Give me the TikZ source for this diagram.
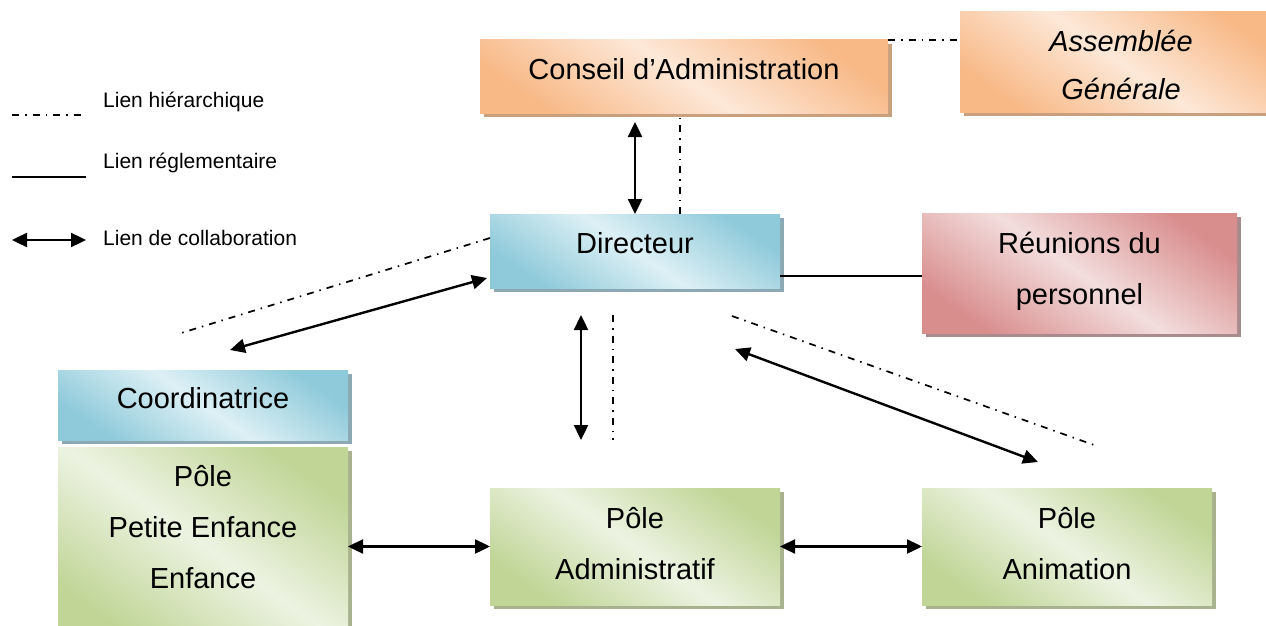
\documentclass[tikz,border=0pt]{standalone}
\usepackage{fontspec}
\setmainfont{Liberation Sans}
\usetikzlibrary{arrows.meta,calc,shadows}
\definecolor{or1}{HTML}{F8B987}
\definecolor{or2}{HTML}{FDE8D8}
\definecolor{orsh}{HTML}{C9A07E}
\definecolor{bl1}{HTML}{8FCADA}
\definecolor{bl2}{HTML}{DDF0F5}
\definecolor{blsh}{HTML}{8CA8B3}
\definecolor{rd1}{HTML}{D98E8E}
\definecolor{rd2}{HTML}{F3DDDD}
\definecolor{rdsh}{HTML}{A98B8D}
\definecolor{gr1}{HTML}{C0D596}
\definecolor{gr2}{HTML}{EDF3E2}
\definecolor{grsh}{HTML}{A9B28E}
\newcommand{\bxtxt}[4]{\parbox[c][#2][t]{#1}{\centering\vspace*{#3}\strut#4}}
\begin{document}
\begin{tikzpicture}[x=1pt,y=-1pt,
  box/.style={inner sep=0pt, outer sep=0pt, anchor=north west, font=\fontsize{29}{51}\selectfont},
  obox/.style={box, top color=or1, bottom color=or1, middle color=or2, shading angle=-35,
    general shadow={fill=orsh, shadow xshift=4pt, shadow yshift=-4pt}},
  bbox/.style={box, top color=bl1, bottom color=bl1, middle color=bl2, shading angle=-35,
    general shadow={fill=blsh, shadow xshift=4pt, shadow yshift=-4pt}},
  rbox/.style={box, top color=rd1, bottom color=rd1, middle color=rd2, shading angle=-35,
    general shadow={fill=rdsh, shadow xshift=4pt, shadow yshift=-4pt}},
  gbox/.style={box, top color=gr1, bottom color=gr1, middle color=gr2, shading angle=-35,
    general shadow={fill=grsh, shadow xshift=4pt, shadow yshift=-4pt}},
  hier/.style={line width=1.7pt, dash pattern=on 7pt off 6pt on 1.5pt off 6pt},
  reg/.style={line width=1.8pt},
  collab/.style={line width=2.4pt, {Triangle[length=15pt,width=14pt]}-{Triangle[length=15pt,width=14pt]}},
  legend/.style={anchor=base west, inner sep=0pt, font=\fontsize{21}{25}\selectfont}]
\useasboundingbox (0,0) rectangle (1266,626);
\clip (0,0) rectangle (1266,626);

% boxes
\node[obox] (conseil) at (480,40) {\bxtxt{408pt}{73pt}{3.5pt}{Conseil d’Administration}};
\node[obox, font=\fontsize{29}{48}\selectfont\itshape] (assemblee) at (960,12) {\bxtxt{322pt}{100pt}{6pt}{Assemblée\\Générale}};
\node[bbox] (directeur) at (490,214) {\bxtxt{290pt}{74pt}{3.5pt}{Directeur}};
\node[rbox] (reunions) at (922,213) {\bxtxt{315pt}{120pt}{5pt}{Réunions du\\personnel}};
\node[bbox] (coord) at (58,370) {\bxtxt{290pt}{70pt}{2.5pt}{Coordinatrice}};
\node[gbox] (petite) at (58,447) {\bxtxt{290pt}{195pt}{3.5pt}{Pôle\\Petite Enfance\\Enfance}};
\node[gbox] (admin) at (490,488) {\bxtxt{290pt}{117pt}{5pt}{Pôle\\Administratif}};
\node[gbox] (anim) at (922,488) {\bxtxt{290pt}{117pt}{5pt}{Pôle\\Animation}};

% connectors
\draw[hier] (conseil.north east) -- (conseil.north east -| assemblee.west);
\coordinate (h1) at ($(directeur.north)+(45,0)$);
\draw[hier] (h1) -- (h1 |- conseil.south);
\coordinate (c1) at ($(directeur.north |- conseil.south)+(0,9)$);
\draw[collab] (c1) -- (directeur.north);
\coordinate (r1) at ($(directeur.south east)+(0,-12)$);
\draw[reg] (r1) -- (r1 -| reunions.west);

\coordinate (dl1) at ($(directeur.north west)+(0,24)$);
\coordinate (dl2) at (178,334);
\draw[hier] (dl1) -- (dl2);
\coordinate (al1) at ($(directeur.south west)+(-3,-10)$);
\coordinate (al2) at (230,350);
\draw[collab] (al1) -- (al2);

\coordinate (va1) at (581,315);
\coordinate (va2) at (581,440);
\draw[collab] (va1) -- (va2);
\coordinate (vd1) at (613,315);
\coordinate (vd2) at (613,440);
\draw[hier] (vd1) -- (vd2);

\coordinate (dr1) at (732,316);
\coordinate (dr2) at (1094,445);
\draw[hier] (dr1) -- (dr2);
\coordinate (ar1) at (735,349);
\coordinate (ar2) at (1038,462);
\draw[collab] (ar1) -- (ar2);

\draw[collab] (admin.west -| petite.east) -- (admin.west);
\draw[collab] (admin.east) -- (anim.west);

% legend
\coordinate (l1a) at (12,115);
\coordinate (l1b) at (86,115);
\draw[hier] (l1a) -- (l1b);
\node[legend] (t1) at (103,107) {Lien hiérarchique};
\coordinate (l2a) at (12,177);
\coordinate (l2b) at (86,177);
\draw[reg] (l2a) -- (l2b);
\node[legend] (t2) at (103,168) {Lien réglementaire};
\coordinate (l3a) at (12,240);
\coordinate (l3b) at (86,240);
\draw[collab] (l3a) -- (l3b);
\node[legend] (t3) at (103,245) {Lien de collaboration};
\end{tikzpicture}
\end{document}
